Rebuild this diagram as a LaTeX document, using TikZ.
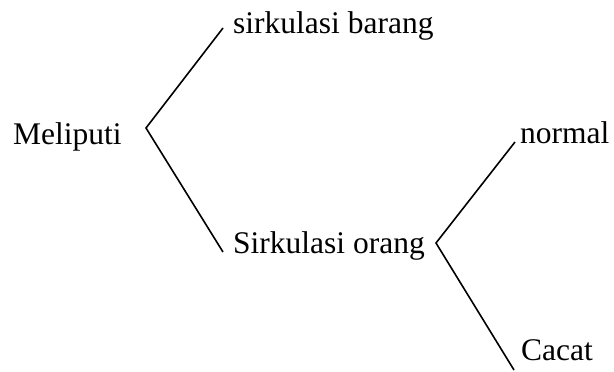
\documentclass[tikz,border=0pt]{standalone}
\usepackage{fontspec}
\setmainfont{Liberation Serif}
\begin{document}
\begin{tikzpicture}[x=1pt,y=-1pt,
  lbl/.style={anchor=base west,inner sep=0pt,font=\fontsize{31.5}{38}\selectfont},
  brk/.style={line width=1.6pt,line join=miter}]
\useasboundingbox[fill=white] (0,0) rectangle (614,372);
\node[lbl] (mel) at (13,144) {Meliputi};
\node[lbl] (bar) at (233,34) {sirkulasi barang};
\node[lbl] (ora) at (233,253) {Sirkulasi orang};
\node[lbl] (nor) at (520,143) {normal};
\node[lbl] (cac) at (521,360) {Cacat};
\coordinate (v1) at (146,128);
\coordinate (b1) at (223,28);
\coordinate (o1) at (223,252);
\coordinate (v2) at (436,243);
\coordinate (n2) at (515,142);
\coordinate (c2) at (514,370);
\draw[brk] (b1) -- (v1) -- (o1);
\draw[brk] (n2) -- (v2) -- (c2);
\end{tikzpicture}
\end{document}
